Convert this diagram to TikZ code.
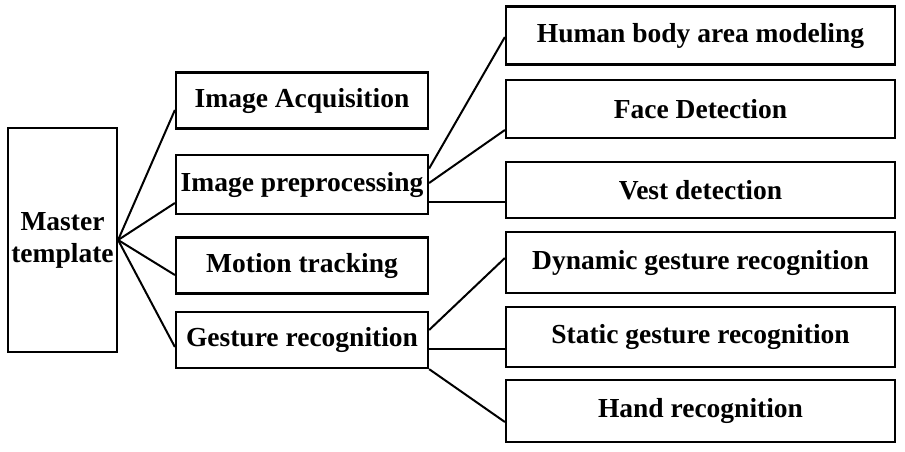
\documentclass[tikz,border=0pt]{standalone}
\usepackage{fontspec}
\setmainfont{Liberation Serif}
\usetikzlibrary{positioning}

\tikzset{
  box/.style={draw, line width=2.2pt, inner sep=0pt, align=center,
    font=\bfseries\fontsize{27.5}{32}\selectfont},
  midbox/.style={box, minimum width=252pt, minimum height=56pt},
  leafbox/.style={box, minimum width=389pt, minimum height=58pt},
  link/.style={line width=2pt}
}

\begin{document}
\begin{tikzpicture}[x=1pt,y=-1pt]
\useasboundingbox (0,0) rectangle (905,451);

% root
\node[box, minimum width=109pt, minimum height=224pt] (master) at (62.5,240) {Master\\template};

% middle column
\node[midbox] (acq)  at (302,100.5) {Image Acquisition};
\node[midbox, minimum height=59pt] (pre) at (302,184.5) {Image preprocessing};
\node[midbox] (mot)  at (302,265.5) {Motion tracking};
\node[midbox] (ges)  at (302,340) {Gesture recognition};

% right column
\node[leafbox] (hum)  at (700.5,35.5) {Human body area modeling};
\node[leafbox] (face) at (700.5,109) {Face Detection};
\node[leafbox, minimum height=56pt] (vest) at (700.5,190) {Vest detection};
\node[leafbox, minimum height=61pt] (dyn)  at (700.5,262.5) {Dynamic gesture recognition};
\node[leafbox, minimum height=60pt] (stat) at (700.5,337) {Static gesture recognition};
\node[leafbox, minimum height=62pt] (hand) at (700.5,411) {Hand recognition};

% master -> middle
\draw[link] (master.east) -- ([yshift=-9.5pt]acq.west);
\draw[link] (master.east) -- ([yshift=-18.5pt]pre.west);
\draw[link] (master.east) -- ([yshift=-9.5pt]mot.west);
\draw[link] (master.east) -- ([yshift=-7pt]ges.west);

% preprocessing -> leaves
\draw[link] ([yshift=16pt]pre.east) -- ([yshift=-1.5pt]hum.west);
\draw[link] ([yshift=1.5pt]pre.east) -- ([yshift=-21pt]face.west);
\draw[link] ([yshift=-17.5pt]pre.east) -- ([yshift=-12pt]vest.west);

% gesture -> leaves
\draw[link] ([yshift=10pt]ges.east) -- ([yshift=4.5pt]dyn.west);
\draw[link] ([yshift=-9pt]ges.east) -- ([yshift=-12pt]stat.west);
\draw[link] (ges.south east) -- ([yshift=-11pt]hand.west);
\end{tikzpicture}
\end{document}
